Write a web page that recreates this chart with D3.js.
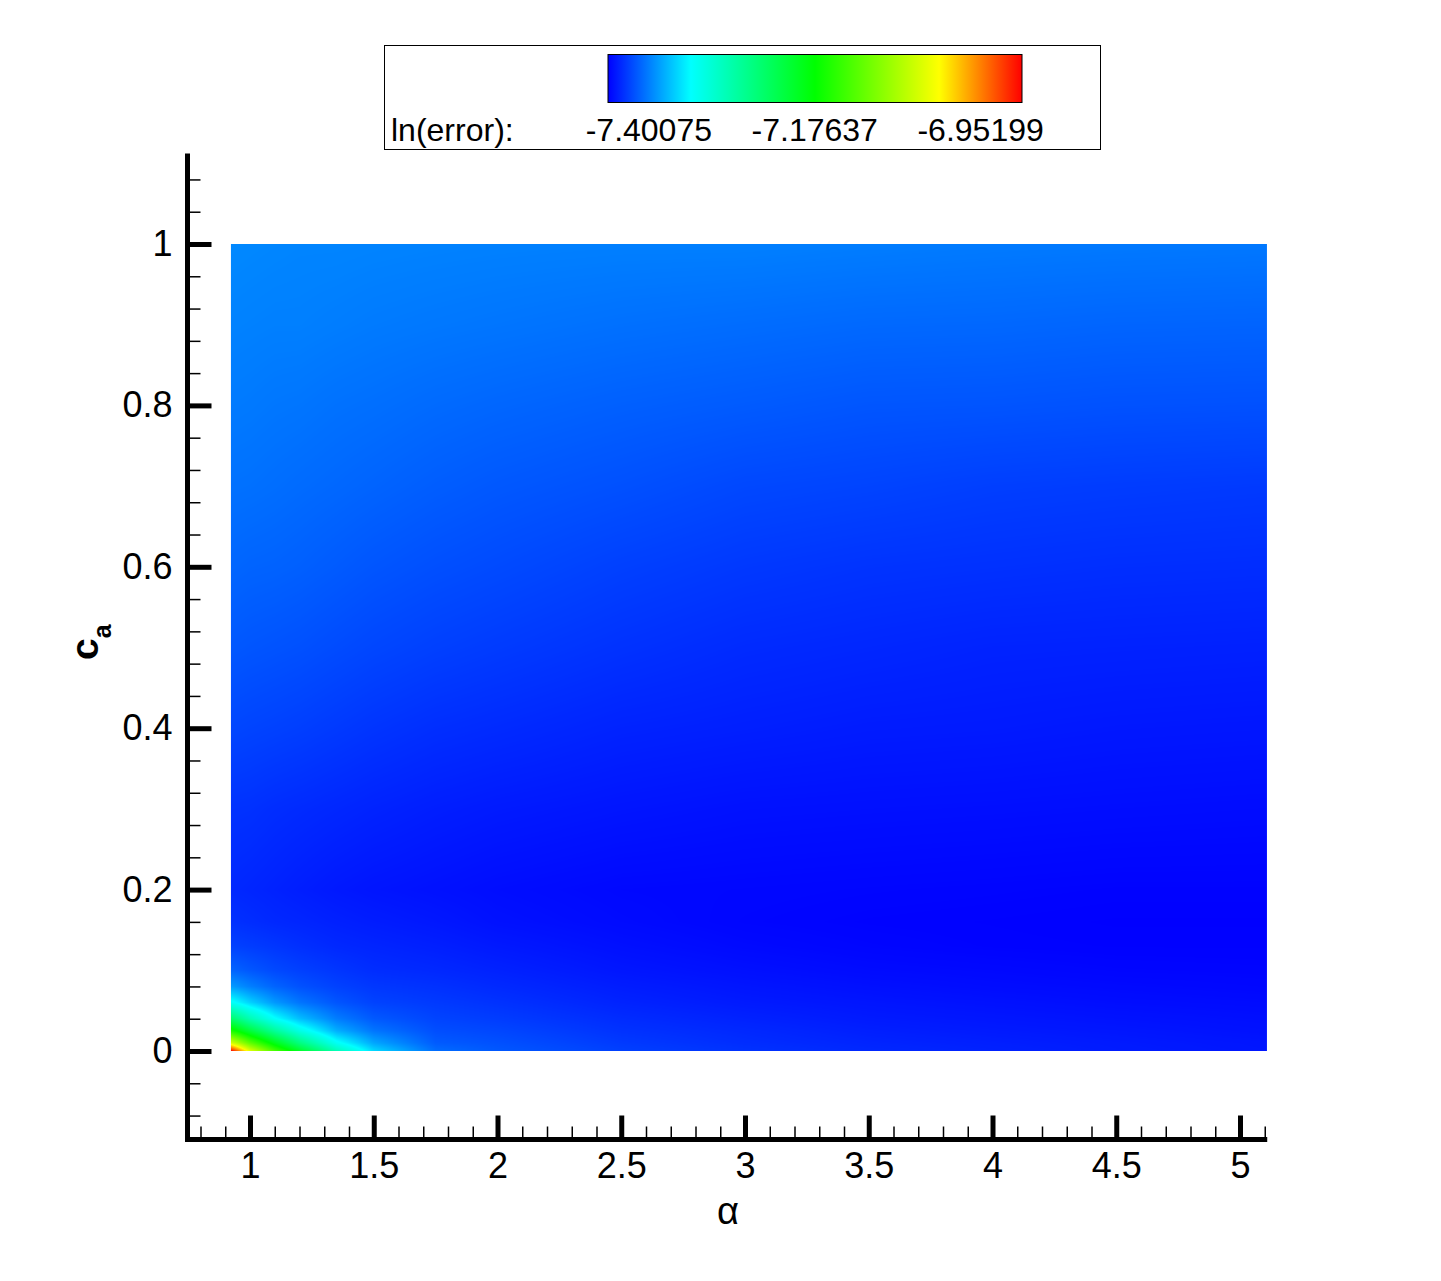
<!DOCTYPE html>
<html><head><meta charset="utf-8">
<script src="https://cdn.jsdelivr.net/npm/d3@7"></script>
<style>
body{margin:0;background:#fff}
svg{display:block}
text{font-family:"Liberation Sans",Arial,Helvetica,sans-serif;fill:#000}
</style>
</head><body><div id="chart"></div>
<script>
// ---------------- data ----------------
const alphas = [0.923, 1.0, 1.1, 1.2, 1.35, 1.5, 1.75, 2.0, 2.5, 3.0, 3.5, 4.0, 4.5, 5.11];
const cas = [0, 0.01, 0.025, 0.04, 0.06, 0.08, 0.1, 0.13, 0.16, 0.2, 0.3, 0.4, 0.5, 0.6, 0.7, 0.8, 0.9, 1.0];
// ln(error) on the (ca, alpha) grid: one row per ca value, one column per alpha value
const lnError = [
  [-6.8960,-7.0276,-7.1284,-7.2023,-7.2964,-7.3608,-7.4084,-7.4174,-7.4280,-7.4342,-7.4386,-7.4414,-7.4442,-7.4465],
  [-7.0332,-7.1144,-7.1928,-7.2600,-7.3378,-7.3832,-7.4162,-7.4207,-7.4308,-7.4364,-7.4403,-7.4426,-7.4448,-7.4470],
  [-7.1592,-7.2152,-7.2768,-7.3272,-7.3793,-7.4045,-7.4218,-7.4252,-7.4342,-7.4386,-7.4426,-7.4448,-7.4465,-7.4487],
  [-7.2460,-7.2936,-7.3412,-7.3720,-7.4011,-7.4168,-7.4263,-7.4297,-7.4370,-7.4414,-7.4448,-7.4465,-7.4482,-7.4498],
  [-7.3373,-7.3636,-7.3888,-7.4045,-7.4185,-7.4269,-7.4308,-7.4342,-7.4409,-7.4448,-7.4470,-7.4487,-7.4504,-7.4515],
  [-7.3877,-7.4000,-7.4123,-7.4202,-7.4274,-7.4319,-7.4347,-7.4381,-7.4437,-7.4470,-7.4493,-7.4510,-7.4521,-7.4532],
  [-7.4118,-7.4179,-7.4241,-7.4280,-7.4325,-7.4364,-7.4386,-7.4414,-7.4465,-7.4493,-7.4515,-7.4526,-7.4538,-7.4543],
  [-7.4274,-7.4297,-7.4325,-7.4353,-7.4386,-7.4403,-7.4426,-7.4454,-7.4493,-7.4521,-7.4538,-7.4549,-7.4554,-7.4554],
  [-7.4347,-7.4364,-7.4386,-7.4398,-7.4420,-7.4437,-7.4459,-7.4487,-7.4515,-7.4538,-7.4549,-7.4554,-7.4560,-7.4560],
  [-7.4386,-7.4398,-7.4414,-7.4431,-7.4454,-7.4470,-7.4487,-7.4504,-7.4526,-7.4532,-7.4538,-7.4543,-7.4549,-7.4549],
  [-7.4342,-7.4347,-7.4364,-7.4375,-7.4392,-7.4409,-7.4431,-7.4448,-7.4470,-7.4487,-7.4493,-7.4498,-7.4504,-7.4510],
  [-7.4252,-7.4263,-7.4274,-7.4286,-7.4308,-7.4330,-7.4358,-7.4375,-7.4409,-7.4426,-7.4442,-7.4448,-7.4459,-7.4465],
  [-7.4174,-7.4185,-7.4196,-7.4207,-7.4230,-7.4252,-7.4280,-7.4302,-7.4342,-7.4375,-7.4392,-7.4409,-7.4414,-7.4420],
  [-7.4112,-7.4123,-7.4129,-7.4140,-7.4162,-7.4185,-7.4213,-7.4235,-7.4280,-7.4314,-7.4336,-7.4347,-7.4358,-7.4364],
  [-7.4062,-7.4067,-7.4078,-7.4090,-7.4106,-7.4123,-7.4151,-7.4174,-7.4207,-7.4246,-7.4263,-7.4286,-7.4297,-7.4308],
  [-7.4022,-7.4028,-7.4039,-7.4045,-7.4062,-7.4073,-7.4095,-7.4112,-7.4140,-7.4162,-7.4185,-7.4190,-7.4202,-7.4207],
  [-7.3989,-7.3994,-7.4000,-7.4000,-7.4011,-7.4022,-7.4034,-7.4045,-7.4067,-7.4084,-7.4101,-7.4106,-7.4118,-7.4123],
  [-7.3961,-7.3966,-7.3972,-7.3978,-7.3978,-7.3983,-7.3989,-7.3994,-7.4000,-7.4000,-7.4011,-7.4022,-7.4028,-7.4034]
];
const xMajorTicks = [1, 1.5, 2, 2.5, 3, 3.5, 4, 4.5, 5];
const yMajorTicks = [0, 0.2, 0.4, 0.6, 0.8, 1];
const legendTicks = [-7.40075, -7.17637, -6.95199];
const legendRange = [-7.456, -6.896];
const colorPositions = [0, 0.2, 0.5, 0.8, 1];
const colorStops = ["#0000ff", "#00ffff", "#00ff00", "#ffff00", "#ff0000"];
const legendTitle = "ln(error):";
const xTitle = "\u03B1";

// ---------------- layout ----------------
const W = 1441, H = 1281;
const svg = d3.select("#chart").append("svg").attr("width", W).attr("height", H);
const x = d3.scaleLinear().domain([1, 5]).range([250, 1240]);
const y = d3.scaleLinear().domain([0, 1]).range([1051, 244]);
const axisX1 = 5.11, axisY1 = 1.112;
const yAxisPos = 187.5, xAxisPos = 1139.5;

const zSpan = legendRange[1] - legendRange[0];
const color = d3.scaleLinear()
  .domain(colorPositions.map(p => legendRange[0] + p * zSpan))
  .range(colorStops).clamp(true);

// ---------------- heatmap (bilinear shading of the grid) ----------------
const hx0 = x(alphas[0]), hx1 = x(alphas[alphas.length - 1]);
const hy0 = y(cas[cas.length - 1]), hy1 = y(cas[0]);
const cw = Math.round(hx1 - hx0), ch = Math.round(hy1 - hy0);
const canvas = document.createElement("canvas");
canvas.width = cw; canvas.height = ch;
const ctx = canvas.getContext("2d");
const img = ctx.createImageData(cw, ch);
const LUT = 2048;
const lut = d3.range(LUT).map(k => d3.rgb(color(legendRange[0] + zSpan * k / (LUT - 1))));
function locate(arr, v) {
  let i = d3.bisectRight(arr, v) - 1;
  i = Math.max(0, Math.min(arr.length - 2, i));
  let t = (v - arr[i]) / (arr[i + 1] - arr[i]);
  t = Math.max(0, Math.min(1, t));
  return [i, t];
}
const colLoc = d3.range(cw).map(px => locate(alphas, x.invert(hx0 + px + 0.5)));
for (let py = 0; py < ch; py++) {
  const [j, tj] = locate(cas, y.invert(hy0 + py + 0.5));
  const r0 = lnError[j], r1 = lnError[j + 1];
  for (let px = 0; px < cw; px++) {
    const [i, ti] = colLoc[px];
    const v = (1 - tj) * ((1 - ti) * r0[i] + ti * r0[i + 1]) + tj * ((1 - ti) * r1[i] + ti * r1[i + 1]);
    let k = Math.round((v - legendRange[0]) / zSpan * (LUT - 1));
    k = Math.max(0, Math.min(LUT - 1, k));
    const c = lut[k], o = (py * cw + px) * 4;
    img.data[o] = c.r; img.data[o + 1] = c.g; img.data[o + 2] = c.b; img.data[o + 3] = 255;
  }
}
ctx.putImageData(img, 0, 0);
svg.append("image")
  .attr("x", hx0).attr("y", hy0).attr("width", cw).attr("height", ch)
  .attr("preserveAspectRatio", "none")
  .attr("href", canvas.toDataURL());

// ---------------- axes ----------------
const fmt = d3.format("");
const yMinor = d3.range(-0.08, 1.1, 0.04).map(v => +v.toFixed(2)).filter(v => !yMajorTicks.some(m => Math.abs(m - v) < 1e-6));
const xMinor = d3.range(0.8, 5.15, 0.1).map(v => +v.toFixed(1)).filter(v => !xMajorTicks.some(m => Math.abs(m - v) < 1e-6));

const gy = svg.append("g").attr("transform", `translate(${yAxisPos},0)`);
gy.append("g").call(d3.axisLeft(y).tickValues(yMinor).tickSize(-13).tickFormat(""))
  .call(g => g.select(".domain").remove())
  .call(g => g.selectAll("line").attr("stroke-width", 1.5).attr("stroke", "#000"));
gy.append("g").call(d3.axisLeft(y).tickValues(yMajorTicks).tickSize(-24).tickPadding(15).tickFormat(fmt))
  .call(g => g.select(".domain").remove())
  .call(g => g.selectAll("line").attr("stroke-width", 5).attr("stroke", "#000"))
  .call(g => g.selectAll("text").attr("font-size", 36).attr("font-family", '"Liberation Sans",Arial,sans-serif').attr("fill", "#000"));

const gx = svg.append("g").attr("transform", `translate(0,${xAxisPos})`);
gx.append("g").call(d3.axisBottom(x).tickValues(xMinor).tickSize(-13).tickFormat(""))
  .call(g => g.select(".domain").remove())
  .call(g => g.selectAll("line").attr("stroke-width", 1.5).attr("stroke", "#000"));
gx.append("g").call(d3.axisBottom(x).tickValues(xMajorTicks).tickSize(-24).tickPadding(13).tickFormat(fmt))
  .call(g => g.select(".domain").remove())
  .call(g => g.selectAll("line").attr("stroke-width", 5).attr("stroke", "#000"))
  .call(g => g.selectAll("text").attr("font-size", 36).attr("font-family", '"Liberation Sans",Arial,sans-serif').attr("fill", "#000"));

// axis lines
svg.append("line").attr("x1", yAxisPos).attr("x2", yAxisPos)
  .attr("y1", y(axisY1)).attr("y2", xAxisPos + 2.5).attr("stroke", "#000").attr("stroke-width", 5);
svg.append("line").attr("x1", yAxisPos - 2.5).attr("x2", x(axisX1))
  .attr("y1", xAxisPos).attr("y2", xAxisPos).attr("stroke", "#000").attr("stroke-width", 5);

// axis titles
svg.append("text").attr("x", 728).attr("y", 1224).attr("text-anchor", "middle")
  .attr("font-size", 38).text(xTitle);
const yt = svg.append("text").attr("transform", "translate(98,660) rotate(-90)")
  .attr("font-weight", "bold");
yt.append("tspan").attr("font-size", 39).text("c");
yt.append("tspan").attr("font-size", 25).attr("dy", 13).text("a");

// ---------------- legend ----------------
const lg = svg.append("g");
lg.append("rect").attr("x", 384.5).attr("y", 45.5).attr("width", 716).attr("height", 104)
  .attr("fill", "#fff").attr("stroke", "#000").attr("stroke-width", 1);
const lx = d3.scaleLinear().domain(legendRange).range([608, 1022]);
const grad = svg.append("defs").append("linearGradient").attr("id", "lgGrad")
  .attr("x1", "0%").attr("x2", "100%").attr("y1", "0%").attr("y2", "0%");
colorPositions.forEach((p, k) => grad.append("stop").attr("offset", (p * 100) + "%").attr("stop-color", colorStops[k]));
lg.append("rect").attr("x", lx(legendRange[0])).attr("y", 54.5)
  .attr("width", lx(legendRange[1]) - lx(legendRange[0])).attr("height", 48)
  .attr("fill", "url(#lgGrad)").attr("stroke", "#000").attr("stroke-width", 1);
lg.append("text").attr("x", 391).attr("y", 141).attr("font-size", 32).text(legendTitle);
lg.selectAll("text.lt").data(legendTicks).enter().append("text").attr("class", "lt")
  .attr("x", d => lx(d)).attr("y", 141).attr("text-anchor", "middle").attr("font-size", 32)
  .text(d => d.toFixed(5));
</script>
</body></html>
